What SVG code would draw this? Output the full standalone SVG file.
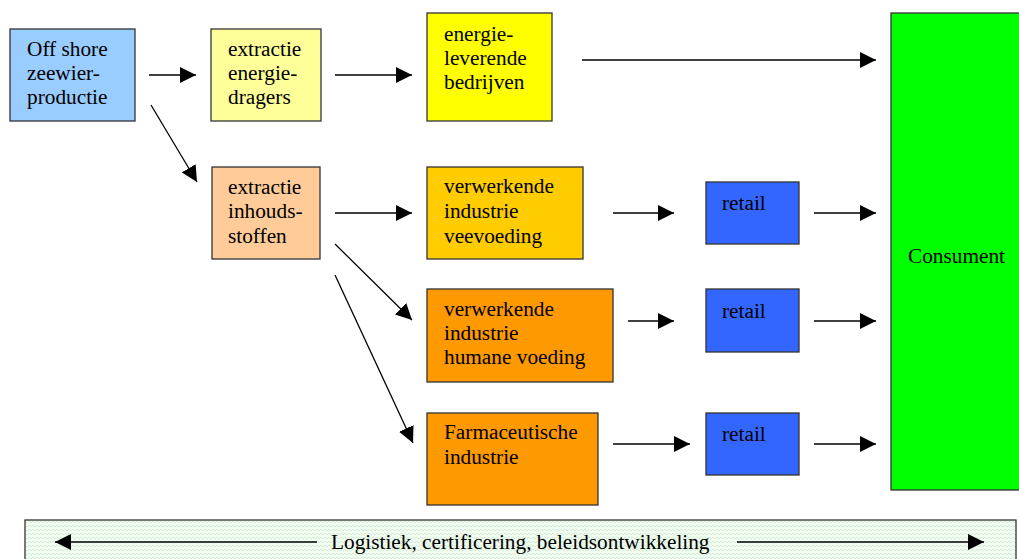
<svg xmlns="http://www.w3.org/2000/svg" width="1019" height="559" viewBox="0 0 1019 559">
<style>
.box{stroke:#333;stroke-width:1.3}
.t{font-family:"Liberation Serif","Times New Roman",serif;font-size:21.3px;fill:#000}
.c{stroke:#000;stroke-width:1.3;fill:none;marker-end:url(#ah)}
</style>
<defs>
<marker id="ah" markerUnits="userSpaceOnUse" markerWidth="17" markerHeight="16" refX="16" refY="8" orient="auto">
<path d="M0,0 L16,8 L0,16 z" fill="#000"/>
</marker>
<pattern id="mesh" width="4" height="4" patternUnits="userSpaceOnUse">
<rect width="4" height="4" fill="#f2fbf2"/>
<path d="M0,2 Q1,0 2,2 T4,2" stroke="#cdeecd" stroke-width="0.8" fill="none"/>
</pattern>
</defs>
<rect width="1019" height="559" fill="#fff"/>

<g id="logistiek">
<rect x="25" y="520" width="991" height="44" fill="url(#mesh)" class="box"/>
<text class="t" x="331" y="549">Logistiek, certificering, beleidsontwikkeling</text>
</g>

<g id="offshore">
<rect x="10" y="29" width="125" height="92" fill="#99ccff" class="box"/>
<text class="t" x="27" y="56">Off shore</text>
<text class="t" x="27" y="80">zeewier-</text>
<text class="t" x="27" y="104">productie</text>
</g>
<g id="extractie-energie">
<rect x="211" y="29" width="110" height="92" fill="#ffff99" class="box"/>
<text class="t" x="228" y="56">extractie</text>
<text class="t" x="228" y="80">energie-</text>
<text class="t" x="228" y="104">dragers</text>
</g>
<g id="energieleverend">
<rect x="427" y="13" width="125" height="108" fill="#ffff00" class="box"/>
<text class="t" x="444" y="41">energie-</text>
<text class="t" x="444" y="65">leverende</text>
<text class="t" x="444" y="89">bedrijven</text>
</g>
<g id="consument">
<rect x="891" y="13" width="135" height="477" fill="#00ff00" class="box"/>
<text class="t" x="908" y="263">Consument</text>
</g>
<g id="extractie-inhoud">
<rect x="212" y="167" width="108" height="92" fill="#ffcc99" class="box"/>
<text class="t" x="228" y="194">extractie</text>
<text class="t" x="228" y="218">inhouds-</text>
<text class="t" x="228" y="243">stoffen</text>
</g>
<g id="veevoeding">
<rect x="427" y="167" width="156" height="92" fill="#ffcc00" class="box"/>
<text class="t" x="444" y="193">verwerkende</text>
<text class="t" x="444" y="218">industrie</text>
<text class="t" x="444" y="243">veevoeding</text>
</g>
<g id="humane">
<rect x="427" y="289" width="186" height="93" fill="#ff9900" class="box"/>
<text class="t" x="444" y="316">verwerkende</text>
<text class="t" x="444" y="340">industrie</text>
<text class="t" x="444" y="364">humane voeding</text>
</g>
<g id="farma">
<rect x="427" y="413" width="171" height="92" fill="#ff9900" class="box"/>
<text class="t" x="444" y="439">Farmaceutische</text>
<text class="t" x="444" y="464">industrie</text>
</g>
<g id="retail1">
<rect x="706" y="182" width="93" height="62" fill="#3366ff" class="box"/>
<text class="t" x="722" y="210">retail</text>
</g>
<g id="retail2">
<rect x="706" y="289" width="93" height="63" fill="#3366ff" class="box"/>
<text class="t" x="722" y="318">retail</text>
</g>
<g id="retail3">
<rect x="706" y="413" width="93" height="62" fill="#3366ff" class="box"/>
<text class="t" x="722" y="441">retail</text>
</g>

<g id="connectors">
<line class="c" x1="149" y1="75" x2="196" y2="75"/>
<line class="c" x1="335" y1="75" x2="412" y2="75"/>
<line class="c" x1="582" y1="60" x2="876" y2="60"/>
<line class="c" x1="151" y1="105" x2="197" y2="182"/>
<line class="c" x1="335" y1="213" x2="412" y2="213"/>
<line class="c" x1="335" y1="244" x2="412" y2="320"/>
<line class="c" x1="335" y1="275" x2="413" y2="443"/>
<line class="c" x1="613" y1="213" x2="674" y2="213"/>
<line class="c" x1="628" y1="321" x2="674" y2="321"/>
<line class="c" x1="613" y1="444" x2="690" y2="444"/>
<line class="c" x1="814" y1="213" x2="876" y2="213"/>
<line class="c" x1="814" y1="321" x2="876" y2="321"/>
<line class="c" x1="814" y1="444" x2="876" y2="444"/>
<line class="c" x1="317" y1="542" x2="55" y2="542"/>
<line class="c" x1="737" y1="542" x2="984" y2="542"/>
</g>
</svg>
